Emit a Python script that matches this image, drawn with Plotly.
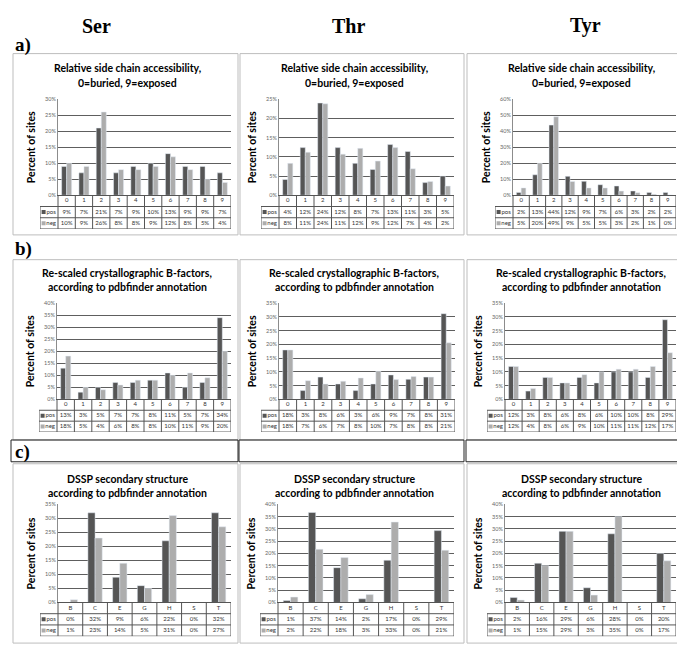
import plotly.graph_objects as go

# ---- data (percent of sites) ----
acc_cats = ["0", "1", "2", "3", "4", "5", "6", "7", "8", "9"]
bfac_cats = ["0", "1", "2", "3", "4", "5", "6", "7", "8", "9"]
dssp_cats = ["B", "C", "E", "G", "H", "S", "T"]

ser_acc_pos = [9, 7, 21, 7, 9, 10, 13, 9, 9, 7]
ser_acc_neg = [10, 9, 26, 8, 8, 9, 12, 8, 5, 4]
thr_acc_pos = [4.1, 12.4, 24.0, 12.4, 8.3, 6.7, 13.2, 11.4, 3.3, 5.0]
thr_acc_neg = [8.3, 11.2, 23.8, 10.7, 12.2, 8.9, 12.4, 6.9, 3.6, 2.4]
tyr_acc_pos = [1.8, 12.8, 43.8, 11.8, 8.7, 6.6, 5.8, 2.7, 1.7, 1.7]
tyr_acc_neg = [4.6, 20.0, 49.0, 8.6, 4.6, 4.6, 2.6, 1.6, 0.6, 0.2]

ser_bfac_pos = [13, 3, 5, 7, 7, 8, 11, 5, 7, 34]
ser_bfac_neg = [18, 5, 4, 6, 8, 8, 10, 11, 9, 20]
thr_bfac_pos = [18, 3.2, 8.1, 5.6, 3.2, 5.6, 8.9, 7.3, 8.1, 31.2]
thr_bfac_neg = [18, 6.8, 5.6, 6.6, 7.8, 10.2, 7.2, 8.3, 8.1, 20.6]
tyr_bfac_pos = [12, 3, 8, 6, 8, 6, 10, 10, 8, 29]
tyr_bfac_neg = [12, 4, 8, 6, 9, 10, 11, 11, 12, 17]

ser_dssp_pos = [0, 32, 9, 6, 22, 0, 32]
ser_dssp_neg = [1, 23, 14, 5, 31, 0, 27]
thr_dssp_pos = [0.8, 36.7, 14.2, 1.5, 17.2, 0, 29.3]
thr_dssp_neg = [2.2, 21.7, 18.3, 3.2, 32.8, 0, 21.3]
tyr_dssp_pos = [2, 16, 29, 6, 28, 0, 20]
tyr_dssp_neg = [1, 15, 29, 3, 35, 0, 17]

residues = ["Ser", "Thr", "Tyr"]
row_labels = ["a)", "b)", "c)"]
row_titles = [
    ("Relative side chain accessibility,", "0=buried, 9=exposed"),
    ("Re-scaled crystallographic B-factors,", "according to pdbfinder annotation"),
    ("DSSP secondary structure", "according to pdbfinder annotation"),
]
y_max = [[30, 25, 60], [40, 35, 35], [35, 40, 40]]
y_step = [[5, 5, 10], [5, 5, 5], [5, 5, 5]]

panels = [
    [(acc_cats, ser_acc_pos, ser_acc_neg), (acc_cats, thr_acc_pos, thr_acc_neg), (acc_cats, tyr_acc_pos, tyr_acc_neg)],
    [(bfac_cats, ser_bfac_pos, ser_bfac_neg), (bfac_cats, thr_bfac_pos, thr_bfac_neg), (bfac_cats, tyr_bfac_pos, tyr_bfac_neg)],
    [(dssp_cats, ser_dssp_pos, ser_dssp_neg), (dssp_cats, thr_dssp_pos, thr_dssp_neg), (dssp_cats, tyr_dssp_pos, tyr_dssp_neg)],
]

# ---- geometry (pixels) ----
W, H = 685, 647
POS_C = "#555555"
NEG_C = "#adadad"
FONT = "Lato"

rows = [
    dict(box=(43, 226), title=(58, 73), plot=(89, 186), table=(186, 220), label=34),
    dict(box=(251, 433), title=(264, 279), plot=(295, 392), table=(392, 425), label=240),
    dict(box=(457, 638), title=(472, 487), plot=(498, 597), table=(597, 631), label=445),
]
col_box = [(5, 230), (232, 456), (459, 683)]
axis_x = [
    [(50, 223), (271, 446), (505, 668)],
    [(49, 223), (271, 447), (497, 668)],
    [(50, 223), (270, 446), (497, 668)],
]
legend_w = 18


def px(x):
    return x / W


def py(y):
    return 1 - y / H


def sid(k):
    return "" if k == 1 else str(k)


def note(x, y, text, size, family=FONT, **kw):
    # annotation centred on a pixel position
    d = dict(x=px(x), y=py(y), xref="paper", yref="paper", text=text, showarrow=False,
             xanchor="center", yanchor="middle", font=dict(family=family, size=size, color="black"))
    d.update(kw)
    return d


fig = go.Figure()
layout = {}
shapes = []
annotations = []

for c, name in enumerate(residues):
    annotations.append(note([88, 340, 577][c], 15, "<b>%s</b>" % name, 20, "Liberation Serif"))

for r in range(3):
    g = rows[r]
    annotations.append(note(5, g["label"], "<b>%s</b>" % row_labels[r], 19, "Liberation Serif", xanchor="left"))
    for c in range(3):
        k = r * 3 + c + 1
        kt = k + 9
        cats, pos, neg = panels[r][c]
        n = len(cats)
        idx = list(range(n))
        bx0, bx1 = col_box[c]
        ax0, ax1 = axis_x[r][c]
        tx0 = ax0 - legend_w
        L = legend_w / (ax1 - ax0) * n

        # panel frame
        shapes.append(dict(type="rect", xref="paper", yref="paper",
                           x0=px(bx0), x1=px(bx1), y0=py(g["box"][1]), y1=py(g["box"][0]),
                           line=dict(color="#bdbdbd", width=1), layer="below"))
        # titles
        for line, yy in zip(row_titles[r], g["title"]):
            annotations.append(note((bx0 + bx1) / 2 + 2, yy, "<b>%s</b>" % line, 10.5))
        annotations.append(note(ax0 - 27, (g["plot"][0] + g["plot"][1]) / 2,
                                "<b>Percent of sites</b>", 10.5, textangle=-90))

        fig.add_trace(go.Bar(x=idx, y=pos, marker_color=POS_C, xaxis="x" + sid(k), yaxis="y" + sid(k),
                             showlegend=False, hoverinfo="skip"))
        fig.add_trace(go.Bar(x=idx, y=neg, marker_color=NEG_C, xaxis="x" + sid(k), yaxis="y" + sid(k),
                             showlegend=False, hoverinfo="skip"))

        layout["xaxis" + sid(k)] = dict(
            domain=[px(ax0), px(ax1)], range=[-0.5, n - 0.5], anchor="y" + sid(k),
            showticklabels=False, showgrid=False, zeroline=False, ticks="",
            showline=True, linecolor="#555555", linewidth=1,
        )
        layout["yaxis" + sid(k)] = dict(
            domain=[py(g["plot"][1]), py(g["plot"][0])], range=[0, y_max[r][c]],
            dtick=y_step[r][c], ticksuffix="%", anchor="x" + sid(k),
            showgrid=True, gridcolor="#5e5e5e", gridwidth=1, zeroline=False,
            showline=True, linecolor="#8c8c8c", linewidth=1, ticks="",
            tickfont=dict(family=FONT, size=5.5, color="#666666"),
        )

        # data table below the chart
        layout["xaxis" + str(kt)] = dict(
            domain=[px(tx0), px(ax1)], range=[-0.5 - L, n - 0.5], anchor="y" + str(kt), visible=False,
        )
        layout["yaxis" + str(kt)] = dict(
            domain=[py(g["table"][1]), py(g["table"][0])], range=[0, 3], anchor="x" + str(kt), visible=False,
        )
        tx, ty = "x" + str(kt), "y" + str(kt)
        cell_font = dict(family=FONT, size=6, color="#333333")
        fig.add_trace(go.Scatter(x=idx, y=[2.5] * n, text=cats, mode="text", textfont=cell_font,
                                 xaxis=tx, yaxis=ty, showlegend=False, hoverinfo="skip"))
        fig.add_trace(go.Scatter(x=idx, y=[1.5] * n, text=["%d%%" % round(v) for v in pos], mode="text",
                                 textfont=cell_font, xaxis=tx, yaxis=ty, showlegend=False, hoverinfo="skip"))
        fig.add_trace(go.Scatter(x=idx, y=[0.5] * n, text=["%d%%" % round(v) for v in neg], mode="text",
                                 textfont=cell_font, xaxis=tx, yaxis=ty, showlegend=False, hoverinfo="skip"))
        lx = -0.5 - L
        fig.add_trace(go.Scatter(x=[lx + 0.2 * L] * 2, y=[1.5, 0.5], mode="markers",
                                 marker=dict(symbol="square", size=4, color=[POS_C, NEG_C]),
                                 xaxis=tx, yaxis=ty, showlegend=False, hoverinfo="skip"))
        fig.add_trace(go.Scatter(x=[lx + 0.62 * L] * 2, y=[1.5, 0.5], text=["pos", "neg"], mode="text",
                                 textfont=cell_font, xaxis=tx, yaxis=ty, showlegend=False, hoverinfo="skip"))
        tl = dict(color="#555555", width=1)
        for yy in (0, 1, 2):
            shapes.append(dict(type="line", xref=tx, yref=ty, x0=lx, x1=n - 0.5, y0=yy, y1=yy, line=tl))
        for i in range(n + 1):
            shapes.append(dict(type="line", xref=tx, yref=ty, x0=i - 0.5, x1=i - 0.5, y0=0, y1=3, line=tl))
        shapes.append(dict(type="line", xref=tx, yref=ty, x0=lx, x1=lx, y0=0, y1=2, line=tl))

# black strip between rows b and c
for c in range(3):
    x0 = 3 if c == 0 else col_box[c][0] - 1
    shapes.append(dict(type="rect", xref="paper", yref="paper",
                       x0=px(x0), x1=px(col_box[c][1]), y0=py(455), y1=py(433),
                       line=dict(color="#222222", width=1)))

layout.update(
    width=W, height=H, margin=dict(l=0, r=0, t=0, b=0),
    paper_bgcolor="white", plot_bgcolor="white",
    barmode="group", bargap=0.42, bargroupgap=0,
    shapes=shapes, annotations=annotations, showlegend=False,
)
fig.update_layout(**layout)
fig.write_html("out.html")
